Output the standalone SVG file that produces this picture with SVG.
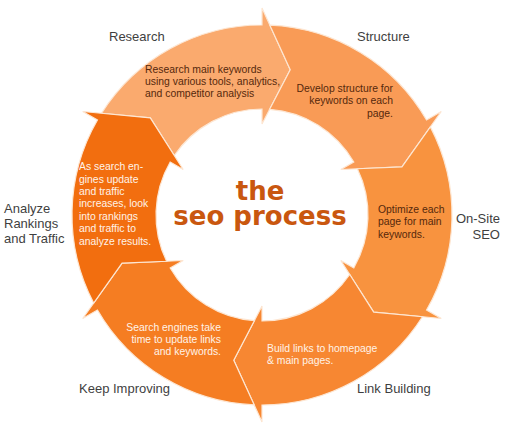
<svg xmlns="http://www.w3.org/2000/svg" width="505" height="430" viewBox="0 0 505 430">
<style>
.seg{stroke:#FDE6D2;stroke-width:1.2;stroke-linejoin:miter}
.lbl{font-family:"Liberation Sans",Arial,sans-serif;font-size:13px;fill:#3f3f3f}
.dk{font-family:"Liberation Sans",Arial,sans-serif;font-size:10.4px;fill:#55280c}
.lt{font-family:"Liberation Sans",Arial,sans-serif;font-size:10.4px;fill:#fff3e8}
.ttl{font-family:"DejaVu Sans","Liberation Sans",sans-serif;font-weight:bold;font-size:26px;fill:#c9570f;text-anchor:middle}
</style>
<rect width="505" height="430" fill="#ffffff"/>
<g id="research">
<path class="seg" fill="#FAAA6E" d="M150.30,117.90 L101.53,113.27 A190,190 0 0 1 262,25 L262,8 L290.24,69.72 L262,124 L262,109 A106,106 0 0 0 174.27,155.51 Z"/>
<text class="lbl" x="109" y="41">Research</text>
<text class="dk" x="145" y="73">Research main keywords</text>
<text class="dk" x="145" y="85">using various tools, analytics,</text>
<text class="dk" x="145" y="97">and competitor analysis</text>
</g>
<g id="structure">
<path class="seg" fill="#F99B56" d="M290.24,69.72 L269.86,25.16 A190,190 0 0 1 426.55,120 L441.27,111.5 L401.94,166.82 L340.81,169.5 L353.80,162 A106,106 0 0 0 269.65,109.28 Z"/>
<text class="lbl" x="357" y="41">Structure</text>
<text class="dk" text-anchor="end" x="393" y="92">Develop structure for</text>
<text class="dk" text-anchor="end" x="393" y="104">keywords on each</text>
<text class="dk" text-anchor="end" x="393" y="117">page.</text>
</g>
<g id="onsite">
<path class="seg" fill="#F8933F" d="M401.94,166.82 L430.33,126.88 A190,190 0 0 1 426.55,310 L441.27,318.5 L373.70,312.10 L340.81,260.5 L353.80,268 A106,106 0 0 0 357.39,168.76 Z"/>
<text class="lbl" text-anchor="end" x="500" y="223">On-Site</text>
<text class="lbl" text-anchor="end" x="500" y="239">SEO</text>
<text class="dk" x="378" y="213">Optimize each</text>
<text class="dk" x="378" y="225">page for main</text>
<text class="dk" x="378" y="238">keywords.</text>
</g>
<g id="linkbuilding">
<path class="seg" fill="#F78732" d="M373.70,312.10 L422.47,316.73 A190,190 0 0 1 262,405 L262,422 L233.76,360.28 L262,306 L262,321 A106,106 0 0 0 349.73,274.49 Z"/>
<text class="lbl" x="357" y="393">Link Building</text>
<text class="lt" x="267" y="352">Build links to homepage</text>
<text class="lt" x="267" y="364">&amp; main pages.</text>
</g>
<g id="keepimproving">
<path class="seg" fill="#F57D22" d="M233.76,360.28 L254.14,404.84 A190,190 0 0 1 97.45,310 L82.73,318.5 L122.06,263.18 L183.19,260.5 L170.20,268 A106,106 0 0 0 254.35,320.72 Z"/>
<text class="lbl" x="79" y="393">Keep Improving</text>
<text class="lt" text-anchor="end" x="221" y="331">Search engines take</text>
<text class="lt" text-anchor="end" x="221" y="343">time to update links</text>
<text class="lt" text-anchor="end" x="221" y="355">and keywords.</text>
</g>
<g id="analyze">
<path class="seg" fill="#F26E0F" d="M122.06,263.18 L93.67,303.12 A190,190 0 0 1 97.45,120 L82.73,111.5 L150.30,117.90 L183.19,169.5 L170.20,162 A106,106 0 0 0 166.61,261.24 Z"/>
<text class="lbl" x="4" y="213">Analyze</text>
<text class="lbl" x="4" y="228">Rankings</text>
<text class="lbl" x="4" y="243">and Traffic</text>
<text class="lt" x="79" y="170">As search en-</text>
<text class="lt" x="79" y="183">gines update</text>
<text class="lt" x="79" y="195">and traffic</text>
<text class="lt" x="79" y="207">increases, look</text>
<text class="lt" x="79" y="220">into rankings</text>
<text class="lt" x="79" y="232">and traffic to</text>
<text class="lt" x="79" y="245">analyze results.</text>
</g>
<g id="center">
<text class="ttl"><tspan x="260" y="200">the</tspan><tspan x="260" y="225">seo process</tspan></text>
</g>
<g id="connectors"/>
</svg>
